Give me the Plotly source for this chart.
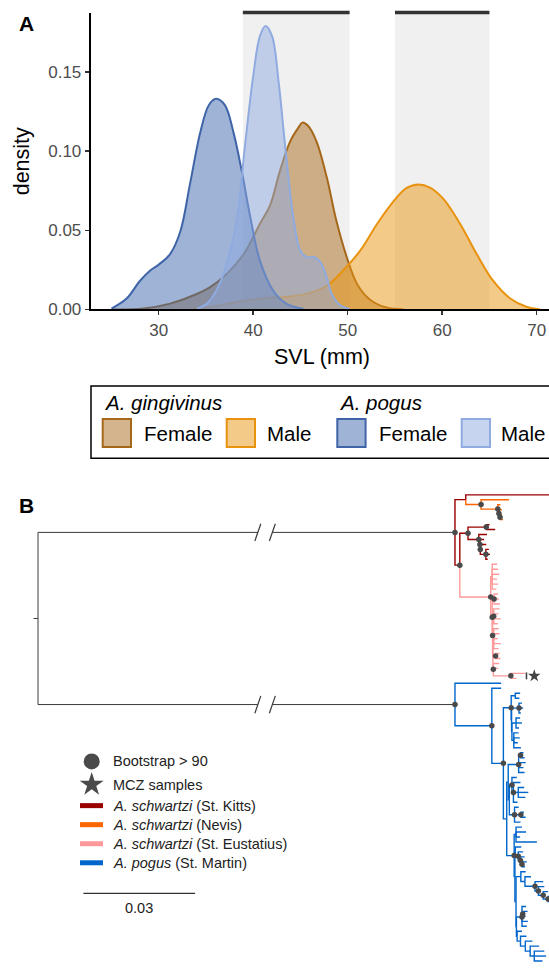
import plotly.graph_objects as go

FONT = "Liberation Sans, Arial, Helvetica, sans-serif"
W, H = 549, 972

# ---------------- Panel A : SVL density ----------------
SVL_RANGE = [22.8, 71.3]
DENS_MAX = 0.1875
Y_TICKS = [0.0, 0.05, 0.10, 0.15]
X_TICKS = [30, 40, 50, 60, 70]
SHADE_SPANS = [(38.9, 50.2), (55.0, 65.0)]

ging_female_x = [25.2, 28.4, 31.2, 33.7, 35.4, 37.2, 39.0, 40.7, 41.8, 42.8, 43.9, 44.8, 45.2, 45.8,
                 46.7, 47.8, 48.8, 49.9, 51.0, 52.4, 54.1, 55.9]
ging_female_y = [0.0, 0.0006, 0.0037, 0.009, 0.014, 0.0225, 0.035, 0.054, 0.066, 0.087, 0.106, 0.115,
                 0.118, 0.116, 0.106, 0.083, 0.056, 0.033, 0.016, 0.006, 0.0012, 0.0]
ging_male_x = [33.7, 36.5, 39.3, 41.4, 43.5, 45.7, 47.8, 49.5, 51.3, 53.1, 54.8, 56.2, 57.5, 58.7,
               60.1, 61.9, 63.65, 65.4, 67.2, 68.9, 70.35]
ging_male_y = [0.0, 0.0027, 0.0058, 0.0073, 0.0079, 0.010, 0.015, 0.0246, 0.037, 0.054, 0.068, 0.0767,
               0.079, 0.077, 0.070, 0.054, 0.035, 0.018, 0.0069, 0.0017, 0.0]
pogus_female_x = [25.0, 26.6, 28.0, 29.1, 30.1, 31.2, 32.3, 33.3, 34.4, 35.3, 36.07, 37.0, 37.9, 38.8,
                  39.7, 40.7, 42.1, 43.5, 45.3]
pogus_female_y = [0.0006, 0.0069, 0.018, 0.0246, 0.0288, 0.035, 0.0496, 0.079, 0.112, 0.129, 0.133,
                  0.129, 0.112, 0.087, 0.058, 0.031, 0.012, 0.0037, 0.0004]
pogus_male_x = [34.0, 35.1, 36.1, 37.2, 38.3, 39.1, 40.0, 40.7, 41.3, 42.0, 42.7, 43.4, 44.25, 45.0,
                45.7, 46.5, 47.2, 47.8, 48.3, 49.2, 50.2]
pogus_male_y = [0.0004, 0.0037, 0.012, 0.029, 0.058, 0.102, 0.1475, 0.1725, 0.179, 0.1725, 0.143,
                0.102, 0.058, 0.037, 0.033, 0.033, 0.029, 0.020, 0.010, 0.0027, 0.0004]

SERIES = [
    ("A. gingivinus Female", ging_female_x, ging_female_y, "#a5681a", "rgba(168,106,28,0.5)"),
    ("A. gingivinus Male", ging_male_x, ging_male_y, "#e8920e", "rgba(233,149,20,0.5)"),
    ("A. pogus Female", pogus_female_x, pogus_female_y, "#3f65a8", "rgba(61,103,173,0.5)"),
    ("A. pogus Male", pogus_male_x, pogus_male_y, "#8fabe0", "rgba(142,170,223,0.5)"),
]

# ---------------- Panel B : phylogeny ----------------
SCALE_BAR = 0.03
ROOT_EDGE = 0.0012
BREAK_AT = 0.0610
BREAK_GAP = 0.0039
GROUP_OF_TAG = {"K": "kitts", "N": "nevis", "E": "eust", "M": "eust", "P": "pogus"}
MIXED_GROUP = "kitts"
GROUP_COLORS = {"kitts": "#990000", "nevis": "#ff6600", "eust": "#ff9999", "pogus": "#0066cc"}
GROUP_LABELS = {"kitts": ("A. schwartzi", "(St. Kitts)"),
                "nevis": ("A. schwartzi", "(Nevis)"),
                "eust": ("A. schwartzi", "(St. Eustatius)"),
                "pogus": ("A. pogus", "(St. Martin)")}
BOOTSTRAP_MIN = 90

NEWICK_S1 = ("(K:0.0253,(N:0.0075,(N:0.0007,(N:0.0008,(N:0.0005,N:0.0008)100:0.0003)100:0.0003)100:0.0045)"
             "100:0.0041)60:0.0029")
NEWICK_K2 = ("((K:0.0009,K:0.0024)100:0.0049,(K:0.0022,(K:0.0011,(K:0.0016,(K:0.0008,K:0.0011,K:0.0005)"
             "100:0.0015)100:0.0001)100:0.0003)100:0.0029)100:0.0022")
NEWICK_E0 = ("((E:0.0013,E:0.0016,E:0.0019,E:0.0013,E:0.0016,E:0.0011)50:0.0004,"
             "((E:0.0011,E:0.0013,E:0.0016)100:0.0005,((E:0.0016,E:0.0013,E:0.0019,E:0.0011)100:0.0003,"
             "((E:0.0013,E:0.0016,E:0.0011,E:0.0019,E:0.0013)40:0.0002,(E:0.0011,E:0.0013)100:0.0007,"
             "(E:0.0016,E:0.0013,(M:0.0038,M:0.0015)100:0.0047)100:0.0001)50:0.0001)100:0.0001)100:0.0004)"
             "100:0.0083")
NEWICK_P3 = ("((P:0.0013,P:0.0011)50:0.0011,((P:0.0008,P:0.0011,P:0.0005)100:0.0020,"
             "((P:0.0011,P:0.0016,P:0.0008)60:0.0011,(P:0.0013,P:0.0016,P:0.0011,P:0.0019)60:0.0005)"
             "60:0.0001)50:0.0001)100:0.0021")
NEWICK_P5 = ("(((P:0.0008,P:0.0011)100:0.0005,P:0.0019,P:0.0013,P:0.0016)100:0.0028,"
             "((P:0.0013,(P:0.0019,(P:0.0016,P:0.0027,P:0.0019)60:0.0013,P:0.0011)100:0.0004)100:0.0007,"
             "(P:0.0011,(P:0.0008,P:0.0013)100:0.0017,P:0.0016)100:0.0014)60:0.0003)50:0.0004")
NEWICK_P6A = "(P:0.0016,P:0.0027,P:0.0011,P:0.0056)50:0.0005"
NEWICK_P6B = "(P:0.0016,(P:0.0013,(P:0.0011,(P:0.0013,P:0.0008)100:0.0004)100:0.0006)100:0.0008)50:0.0001"
NEWICK_P6C = ("(P:0.0013,(P:0.0016,(P:0.0022,(P:0.0016,(P:0.0013,(P:0.0016,P:0.0027)100:0.0013)100:0.0013)"
              "100:0.0009)100:0.0027)50:0.0011)60:0.0013")
NEWICK_P6I = "(P:0.0011,(P:0.0013,P:0.0008)100:0.0002,P:0.0016,P:0.0013)100:0.0015"
NEWICK_P6K = ("(P:0.0013,(P:0.0016,(P:0.0019,(P:0.0024,(P:0.0027,P:0.0032,P:0.0022)50:0.0011)50:0.0013)"
              "50:0.0013)50:0.0009)50:0.0002")

newick_p6 = ("(" + NEWICK_P6A + ",(" + NEWICK_P6B + ",(" + NEWICK_P6C + ",(" + NEWICK_P6I + "," +
             NEWICK_P6K + ")60:0.0001)50:0.0003)50:0.0002)100:0.0020")
newick_p = ("(P:0.0124,(P:0.0025,(" + NEWICK_P3 + ",(" + NEWICK_P5 + "," + newick_p6 +
            ")60:0.0009)100:0.0031)100:0.0099)100:0.1120")
newick_s = "(" + NEWICK_S1 + ",(" + NEWICK_K2 + "," + NEWICK_E0 + ")100:0.0013)100:0.1120"
TREE_NEWICK = "(" + newick_s + "," + newick_p + "):" + str(ROOT_EDGE) + ";"


def parse_newick(text):
    s = text.strip().rstrip(";")
    pos = 0

    def node():
        nonlocal pos
        n = {"children": [], "name": "", "length": 0.0}
        if s[pos] == "(":
            pos += 1
            while True:
                n["children"].append(node())
                if s[pos] == ",":
                    pos += 1
                else:
                    pos += 1
                    break
        start = pos
        while pos < len(s) and s[pos] not in ",):":
            pos += 1
        n["name"] = s[start:pos]
        if pos < len(s) and s[pos] == ":":
            pos += 1
            start = pos
            while pos < len(s) and s[pos] not in ",)":
                pos += 1
            n["length"] = float(s[start:pos])
        return n

    return node()


tree = parse_newick(TREE_NEWICK)


def set_x(n, x):
    n["x"] = x
    for c in n["children"]:
        set_x(c, x + c["length"])


tip_count = [0]


def set_y(n):
    if not n["children"]:
        n["y"] = tip_count[0]
        tip_count[0] += 1
    else:
        for c in n["children"]:
            set_y(c)
        n["y"] = sum(c["y"] for c in n["children"]) / len(n["children"])


def set_group(n):
    if not n["children"]:
        n["group"] = GROUP_OF_TAG[n["name"][0]]
        n["tags"] = {n["name"][0]}
    else:
        gs, tags = set(), set()
        for c in n["children"]:
            gs.add(set_group(c))
            tags |= c["tags"]
        n["group"] = gs.pop() if len(gs) == 1 else MIXED_GROUP
        n["tags"] = tags
    return n["group"]


set_x(tree, 0.0)
set_y(tree)
set_group(tree)
N_TIPS = tip_count[0]

lines = {g: ([], []) for g in ["root"] + list(GROUP_COLORS)}
dots_x, dots_y = [], []
mcz_node = [None]


def walk(n, is_root):
    if n["children"] and n["name"] and float(n["name"]) > BOOTSTRAP_MIN:
        dots_x.append(n["x"])
        dots_y.append(n["y"])
    if n["children"] and n["tags"] == {"M"} and mcz_node[0] is None:
        mcz_node[0] = n
    for c in n["children"]:
        g = "root" if is_root else c["group"]
        xs, ys = lines[g]
        if is_root:
            xs += [n["x"], n["x"], BREAK_AT - BREAK_GAP / 2, None,
                   BREAK_AT + BREAK_GAP / 2, c["x"], None]
            ys += [n["y"], c["y"], c["y"], None, c["y"], c["y"], None]
        else:
            xs += [n["x"], n["x"], c["x"], None]
            ys += [n["y"], c["y"], c["y"], None]
        walk(c, False)


walk(tree, True)
lines["root"][0].extend([-ROOT_EDGE, 0.0, None])
lines["root"][1].extend([tree["y"], tree["y"], None])


def tips_of(n):
    if not n["children"]:
        return [n]
    out = []
    for c in n["children"]:
        out += tips_of(c)
    return out


# ---------------- figure ----------------
fig = go.Figure()

# Panel A densities
for name, xs, ys, lc, fc in SERIES:
    fig.add_trace(go.Scatter(x=xs, y=ys, mode="lines", name=name, line=dict(color=lc, width=2, shape="spline",
                                                                              smoothing=1.0),
                             fill="tozeroy", fillcolor=fc, showlegend=False, xaxis="x", yaxis="y",
                             hoverinfo="skip"))

# Panel B tree
TREE_LINE_COLORS = dict(GROUP_COLORS, root="#3a3a3a")
for g in ["root", "kitts", "nevis", "eust", "pogus"]:
    xs, ys = lines[g]
    fig.add_trace(go.Scatter(x=xs, y=ys, mode="lines", line=dict(color=TREE_LINE_COLORS[g],
                                                                 width=1.0 if g == "root" else 1.4),
                             showlegend=False, xaxis="x2", yaxis="y2", hoverinfo="skip"))

# break marks on the long root branches
break_x, break_y = [], []
for c in tree["children"]:
    for bx in (BREAK_AT - BREAK_GAP / 2, BREAK_AT + BREAK_GAP / 2):
        break_x += [bx - 0.0008, bx + 0.0008, None]
        break_y += [c["y"] + 1.74, c["y"] - 1.74, None]
fig.add_trace(go.Scatter(x=break_x, y=break_y, mode="lines", line=dict(color="#3a3a3a", width=1.2),
                         showlegend=False, xaxis="x2", yaxis="y2", hoverinfo="skip"))

fig.add_trace(go.Scatter(x=dots_x, y=dots_y, mode="markers",
                         marker=dict(color="#4a4a4a", size=5.5, line=dict(width=0)),
                         showlegend=False, xaxis="x2", yaxis="y2", cliponaxis=False, hoverinfo="skip"))

# MCZ clade label (bar + star)
mcz_tips = tips_of(mcz_node[0])
bar_x = max(t["x"] for t in mcz_tips) + 0.0004
y_lo = min(t["y"] for t in mcz_tips) - 0.2
y_hi = max(t["y"] for t in mcz_tips) + 0.2
fig.add_trace(go.Scatter(x=[bar_x, bar_x], y=[y_lo, y_hi], mode="lines", line=dict(color="#444", width=1.6),
                         showlegend=False, xaxis="x2", yaxis="y2", hoverinfo="skip"))
fig.add_trace(go.Scatter(x=[bar_x + 0.0021], y=[(y_lo + y_hi) / 2], mode="markers",
                         marker=dict(symbol="star", size=9.5, color="#444", line=dict(width=0)),
                         showlegend=False, xaxis="x2", yaxis="y2", cliponaxis=False, hoverinfo="skip"))

# Panel B legend markers (overlay pixel axes)
fig.add_trace(go.Scatter(x=[91.7], y=[769.3], mode="markers",
                         marker=dict(symbol="circle", size=16, color="#4a4a4a", line=dict(width=0)),
                         showlegend=False, xaxis="x3", yaxis="y3", hoverinfo="skip"))
fig.add_trace(go.Scatter(x=[91.7], y=[792.7], mode="markers",
                         marker=dict(symbol="star", size=18, color="#4a4a4a", line=dict(width=0)),
                         showlegend=False, xaxis="x3", yaxis="y3", hoverinfo="skip"))

shapes = []
annotations = []

# shaded size windows + bars
for lo, hi in SHADE_SPANS:
    shapes.append(dict(type="rect", xref="x", yref="y", x0=lo, x1=hi, y0=0, y1=DENS_MAX,
                       fillcolor="#f0f0f0", line=dict(width=0), layer="below"))
    shapes.append(dict(type="line", xref="x", yref="paper", x0=lo, x1=hi,
                       y0=1 - 12.7 / H, y1=1 - 12.7 / H, line=dict(color="#333333", width=3.5)))

# Panel A legend box
shapes.append(dict(type="rect", xref="x3", yref="y3", x0=91, x1=552, y0=390, y1=463,
                   line=dict(color="black", width=1.5), fillcolor="rgba(0,0,0,0)"))
legend_a = [
    (102.7, 141.7, "Female", SERIES[0]),
    (226.7, 265.0, "Male", SERIES[1]),
    (337.3, 376.7, "Female", SERIES[2]),
    (461.7, 499.3, "Male", SERIES[3]),
]
for sx, tx, label, ser in legend_a:
    shapes.append(dict(type="rect", xref="x3", yref="y3", x0=sx, x1=sx + 28.3, y0=423.3, y1=451.7,
                       fillcolor=ser[4], line=dict(color=ser[3], width=2)))
    annotations.append(dict(xref="x3", yref="y3", x=tx, y=438.3, text=label, showarrow=False,
                            xanchor="left", yanchor="middle", font=dict(size=20.5, color="black", family=FONT)))
annotations.append(dict(xref="x3", yref="y3", x=101.5, y=406.7, text="<i>A. gingivinus</i>", showarrow=False,
                        xanchor="left", yanchor="middle", font=dict(size=20.5, color="black", family=FONT)))
annotations.append(dict(xref="x3", yref="y3", x=336.5, y=406.7, text="<i>A. pogus</i>", showarrow=False,
                        xanchor="left", yanchor="middle", font=dict(size=20.5, color="black", family=FONT)))

# axis titles, panel labels
annotations.append(dict(xref="x3", yref="y3", x=22, y=163, text="density", textangle=-90, showarrow=False,
                        xanchor="center", yanchor="middle", font=dict(size=21.5, color="black", family=FONT)))
annotations.append(dict(xref="x3", yref="y3", x=322, y=361, text="SVL (mm)", showarrow=False,
                        xanchor="center", yanchor="middle", font=dict(size=21.5, color="black", family=FONT)))
annotations.append(dict(xref="x3", yref="y3", x=26.5, y=23.5, text="<b>A</b>", showarrow=False,
                        xanchor="center", yanchor="middle", font=dict(size=21, color="black", family=FONT)))
annotations.append(dict(xref="x3", yref="y3", x=26.5, y=511, text="<b>B</b>", showarrow=False,
                        xanchor="center", yanchor="middle", font=dict(size=21, color="black", family=FONT)))

# Panel B legend texts
annotations.append(dict(xref="x3", yref="y3", x=111, y=769.3, text="Bootstrap > 90", showarrow=False,
                        xanchor="left", yanchor="middle", font=dict(size=14.5, color="#222", family=FONT)))
annotations.append(dict(xref="x3", yref="y3", x=111, y=792.7, text="MCZ samples", showarrow=False,
                        xanchor="left", yanchor="middle", font=dict(size=14.5, color="#222", family=FONT)))
for i, g in enumerate(["kitts", "nevis", "eust", "pogus"]):
    yy = 814.0 + i * 19.25
    shapes.append(dict(type="line", xref="x3", yref="y3", x0=80, x1=103, y0=yy, y1=yy,
                       line=dict(color=GROUP_COLORS[g], width=5)))
    sp, loc = GROUP_LABELS[g]
    annotations.append(dict(xref="x3", yref="y3", x=111, y=yy, text="<i>" + sp + "</i> " + loc,
                            showarrow=False, xanchor="left", yanchor="middle",
                            font=dict(size=14.5, color="#222", family=FONT)))

# scale bar
SB_X0 = 0.0122
shapes.append(dict(type="line", xref="x2", yref="paper", x0=SB_X0, x1=SB_X0 + SCALE_BAR,
                   y0=1 - 902.7 / H, y1=1 - 902.7 / H, line=dict(color="#333", width=1.2)))
annotations.append(dict(xref="x2", yref="paper", x=SB_X0 + SCALE_BAR / 2, y=1 - 917 / H, text=str(SCALE_BAR),
                        showarrow=False, xanchor="center", yanchor="middle",
                        font=dict(size=14.5, color="#222", family=FONT)))

# tree y-axis mapping: first tip at 500px, last at 971px, axis spans 480..972px
spacing = (971 - 500) / (N_TIPS - 1)
y2_top = -(500 - 480) / spacing
y2_bot = (N_TIPS - 1) + (972 - 971) / spacing
PX_PER_UNIT = 3723.0
X2_ROOT_PX = 38.0

fig.update_layout(
    width=W, height=H, margin=dict(l=0, r=0, t=0, b=0),
    paper_bgcolor="white", plot_bgcolor="rgba(0,0,0,0)",
    font=dict(family=FONT),
    showlegend=False,
    shapes=shapes, annotations=annotations,
    xaxis=dict(domain=[90.7 / W, 1], range=SVL_RANGE, anchor="y", tickvals=X_TICKS,
               showline=True, linecolor="black", linewidth=2, ticks="outside", ticklen=4,
               tickwidth=1.5, tickcolor="#333", showgrid=False, zeroline=False,
               tickfont=dict(size=17, color="#4d4d4d", family=FONT)),
    yaxis=dict(domain=[1 - 312.7 / H, 1 - 12.7 / H], range=[0, DENS_MAX], anchor="x", tickvals=Y_TICKS,
               tickformat=".2f", showline=True, linecolor="black", linewidth=2, ticks="outside",
               ticklen=4, tickwidth=1.5, tickcolor="#333", showgrid=False, zeroline=False,
               tickfont=dict(size=17, color="#4d4d4d", family=FONT)),
    xaxis2=dict(domain=[0, 1], anchor="y2", visible=False,
                range=[-X2_ROOT_PX / PX_PER_UNIT, (W - X2_ROOT_PX) / PX_PER_UNIT]),
    yaxis2=dict(domain=[0, 1 - 480 / H], anchor="x2", visible=False, range=[y2_bot, y2_top]),
    xaxis3=dict(domain=[0, 1], anchor="y3", visible=False, range=[0, W]),
    yaxis3=dict(domain=[0, 1], anchor="x3", visible=False, range=[H, 0]),
)

PAGE_CSS = ("margin:0;padding:0;overflow:hidden;width:%dpx;height:%dpx;" % (W, H))
fig.write_html("out.html", config={"displayModeBar": False, "staticPlot": True},
               post_script=("document.documentElement.style.cssText='%s';"
                            "document.body.style.cssText='%s';" % (PAGE_CSS, PAGE_CSS)))
